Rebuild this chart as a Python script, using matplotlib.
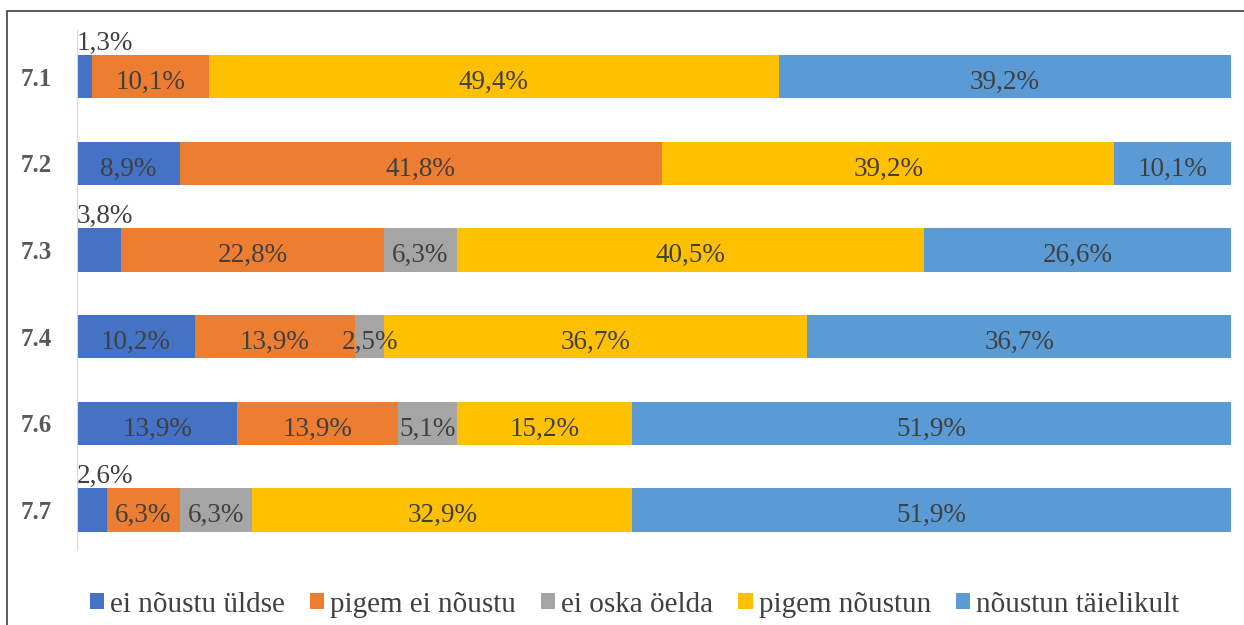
import matplotlib.pyplot as plt
import numpy as np
from matplotlib.patches import Rectangle

# Data
rows = ['7.1', '7.2', '7.3', '7.4', '7.6', '7.7']
ei_noustu_uldse = [1.3, 8.9, 3.8, 10.2, 13.9, 2.6]
pigem_ei_noustu = [10.1, 41.8, 22.8, 13.9, 13.9, 6.3]
ei_oska_oelda = [0.0, 0.0, 6.3, 2.5, 5.1, 6.3]
pigem_noustun = [49.4, 39.2, 40.5, 36.7, 15.2, 32.9]
noustun_taielikult = [39.2, 10.1, 26.6, 36.7, 51.9, 51.9]

series = [
    ('ei nõustu üldse', ei_noustu_uldse, '#4472C4'),
    ('pigem ei nõustu', pigem_ei_noustu, '#ED7D31'),
    ('ei oska öelda', ei_oska_oelda, '#A5A5A5'),
    ('pigem nõustun', pigem_noustun, '#FFC000'),
    ('nõustun täielikult', noustun_taielikult, '#5B9BD5'),
]

plt.rcParams['font.family'] = ['Liberation Serif', 'DejaVu Serif']
txt = '#404040'

fig = plt.figure(figsize=(12.44, 6.25), dpi=100)
ax = fig.add_axes([0.0619, 0.12, 0.9276, 0.832])

y = np.arange(len(rows))
left = np.zeros(len(rows))
handles = []
for name, vals, col in series:
    vals = np.array(vals)
    b = ax.barh(y, vals, left=left, height=0.5, color=col, label=name)
    handles.append(b)
    for i, v in enumerate(vals):
        if v <= 0:
            continue
        lab = f'{v:.1f}%'.replace('.', ',')
        if v < 4.5 and name == 'ei nõustu üldse':
            # small values sit above the bar
            ax.text(left[i], y[i] - 0.42, lab, ha='left', va='center_baseline',
                    fontsize=19.5, color=txt)
        else:
            ax.text(left[i] + v / 2, y[i] + 0.03, lab, ha='center',
                    va='center_baseline', fontsize=19.5, color=txt)
    left += vals

ax.set_xlim(0, 100)
ax.set_ylim(5.46, -0.54)
ax.set_yticks(y)
ax.set_yticklabels(rows, fontsize=18, fontweight='bold', color='#595959')
ax.tick_params(axis='y', length=0, pad=18)
ax.set_xticks([])
for s in ['top', 'right', 'bottom']:
    ax.spines[s].set_visible(False)
ax.spines['left'].set_color('#D9D9D9')

leg = fig.legend(handles=handles, loc='lower center', bbox_to_anchor=(0.51, -0.03),
                 ncol=5, frameon=False, prop={'family': 'Liberation Serif', 'size': 21},
                 handlelength=0.5, handleheight=0.5, handletextpad=0.2,
                 columnspacing=0.85)
for t in leg.get_texts():
    t.set_color(txt)

fig.patches.append(Rectangle((7 / 1244, -0.1), 1.2, 1 - 11 / 625 + 0.1,
                             transform=fig.transFigure, fill=False,
                             edgecolor='#404040', lw=1.2))

fig.savefig('out.png', dpi=100)
